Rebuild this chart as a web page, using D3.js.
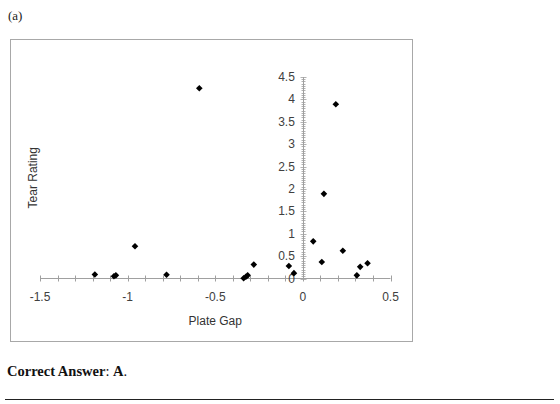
<!DOCTYPE html>
<html>
<head>
<meta charset="utf-8">
<script src="https://cdn.jsdelivr.net/npm/d3@7"></script>
<style>
  body { margin: 0; background: #fff; }
  svg { display: block; }
</style>
</head>
<body>
<svg id="chart" width="560" height="404"></svg>
<script>
// plate gap vs tear rating
var plateGap = [-1.187, -1.078, -1.067, -0.958, -0.778, -0.591, -0.338, -0.325, -0.315, -0.28,
                -0.08, -0.051, 0.059, 0.108, 0.12, 0.188, 0.228, 0.308, 0.327, 0.369];
var tearRating = [0.09, 0.05, 0.07, 0.72, 0.085, 4.25, 0.005, 0.04, 0.07, 0.31,
                  0.28, 0.12, 0.83, 0.37, 1.89, 3.89, 0.62, 0.07, 0.26, 0.34];
var xTickLabels = [-1.5, -1, -0.5, 0, 0.5];
var yTickLabels = [0, 0.5, 1, 1.5, 2, 2.5, 3, 3.5, 4, 4.5];

var svg = d3.select("#chart");
var axisColor = "#a0a0a0";
var textColor = "#404040";

// caption above and answer below
svg.append("text")
    .attr("x", 8).attr("y", 20)
    .attr("font-family", "Liberation Serif, Times New Roman, serif")
    .attr("font-size", 13)
    .attr("fill", "#222")
    .text("(a)");

// outer chart frame
svg.append("rect")
    .attr("x", 10.5).attr("y", 39.5)
    .attr("width", 402).attr("height", 302)
    .attr("fill", "#fff")
    .attr("stroke", "#a8a8a8");

var x = d3.scaleLinear().domain([-1.5, 0.5]).range([40, 390.5]);
var y = d3.scaleLinear().domain([0, 4.5]).range([278.5, 77]);

var g = svg.append("g");

// x axis line + ticks every 0.1
g.append("line")
    .attr("x1", x(-1.5)).attr("x2", x(0.5))
    .attr("y1", y(0)).attr("y2", y(0))
    .attr("stroke", axisColor);
g.selectAll("line.xt")
    .data(d3.range(-15, 6).map(d => d / 10))
    .enter().append("line")
    .attr("class", "xt")
    .attr("x1", d => Math.round(x(d)) + 0.5).attr("x2", d => Math.round(x(d)) + 0.5)
    .attr("y1", y(0) - 3).attr("y2", y(0) + 3)
    .attr("stroke", axisColor);

// y axis line + minor ticks every 0.05, major every 0.5
var yAxX = Math.round(x(0)) + 0.5;
g.append("line")
    .attr("x1", yAxX).attr("x2", yAxX)
    .attr("y1", y(0)).attr("y2", y(4.5))
    .attr("stroke", axisColor);
g.selectAll("line.yt")
    .data(d3.range(0, 91).map(d => d / 20))
    .enter().append("line")
    .attr("class", "yt")
    .attr("x1", (d, i) => yAxX - (i % 10 == 0 ? 3 : 2))
    .attr("x2", (d, i) => yAxX + (i % 10 == 0 ? 3 : 2))
    .attr("y1", d => Math.round(y(d)) + 0.5).attr("y2", d => Math.round(y(d)) + 0.5)
    .attr("stroke", axisColor)
    .attr("stroke-width", 0.8);

// tick labels
g.selectAll("text.xl")
    .data(xTickLabels)
    .enter().append("text")
    .attr("x", d => x(d))
    .attr("y", y(0) + 22)
    .attr("text-anchor", "middle")
    .attr("font-family", "Liberation Sans, Arial, sans-serif")
    .attr("font-size", 12)
    .attr("fill", textColor)
    .text(d => d);

g.selectAll("text.yl")
    .data(yTickLabels)
    .enter().append("text")
    .attr("x", x(0) - 8)
    .attr("y", d => y(d) + 4)
    .attr("text-anchor", "end")
    .attr("font-family", "Liberation Sans, Arial, sans-serif")
    .attr("font-size", 12)
    .attr("fill", textColor)
    .text(d => d);

// axis titles
g.append("text")
    .attr("x", (x(-1.5) + x(0.5)) / 2)
    .attr("y", 325)
    .attr("text-anchor", "middle")
    .attr("font-family", "Liberation Sans, Arial, sans-serif")
    .attr("font-size", 12)
    .attr("fill", "#333")
    .text("Plate Gap");

g.append("text")
    .attr("transform", "translate(37," + (y(0) + y(4.5)) / 2 + ") rotate(-90)")
    .attr("text-anchor", "middle")
    .attr("font-family", "Liberation Sans, Arial, sans-serif")
    .attr("font-size", 12)
    .attr("fill", "#333")
    .text("Tear Rating");

// points as diamonds
var r = 3.3;
g.selectAll("path.pt")
    .data(plateGap.map((d, i) => [d, tearRating[i]]))
    .enter().append("path")
    .attr("class", "pt")
    .attr("d", "M0," + (-r) + "L" + r + ",0L0," + r + "L" + (-r) + ",0Z")
    .attr("transform", d => "translate(" + x(d[0]) + "," + y(d[1]) + ")")
    .attr("fill", "#000");

// answer line
var ans = svg.append("text")
    .attr("x", 7).attr("y", 376)
    .attr("font-family", "Liberation Serif, Times New Roman, serif")
    .attr("font-size", 14.5)
    .attr("fill", "#111");
ans.append("tspan").attr("font-weight", "bold").text("Correct Answer");
ans.append("tspan").text(": ");
ans.append("tspan").attr("font-weight", "bold").text("A");
ans.append("tspan").text(".");

svg.append("line")
    .attr("x1", 5).attr("x2", 554)
    .attr("y1", 399.5).attr("y2", 399.5)
    .attr("stroke", "#222")
    .attr("stroke-width", 1);
</script>
</body>
</html>
